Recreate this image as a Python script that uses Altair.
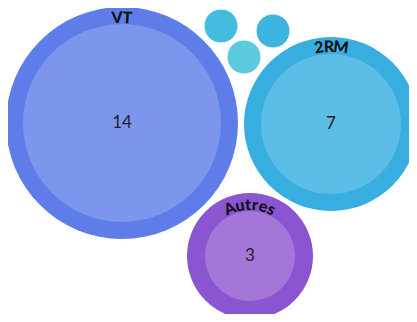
import math
import altair as alt
import pandas as pd

# ---- data ----
categories = ["VT", "2RM", "Autres"]
values = [14, 7, 3]

# ---- layout (page pixel coordinates) ----
centers_x = [122, 331, 250]
centers_y = [123, 124, 256]
outer_r = [116, 87, 63]
inner_r = [99, 70, 45]
outer_colors = ["#5f7de8", "#38aee0", "#8a55d0"]
inner_colors = ["#7b96ec", "#5cbde6", "#a377d8"]
label_r = [105, 77, 51]

small_x = [221, 273, 244]
small_y = [26, 31, 57]
small_r = [17, 17, 17]
small_colors = ["#45bbe0", "#3db4df", "#5bc9de"]

W, H = 401, 306
X0, Y0 = 8, 8

# Vega symbol size is the area of the bounding square: (2r)^2
big = pd.DataFrame({
    "cat": categories, "value": values,
    "x": centers_x, "y": centers_y,
    "area_o": [4 * r * r for r in outer_r],
    "area_i": [4 * r * r for r in inner_r],
    "c_o": outer_colors, "c_i": inner_colors,
})
small = pd.DataFrame({
    "x": small_x, "y": small_y,
    "area": [4 * r * r for r in small_r],
    "c": small_colors,
})

# per-letter curved labels
char_w = {"V": 10.5, "T": 9.5, "2": 9.5, "R": 10.5, "M": 13.5, "A": 11,
          "u": 9.5, "t": 7, "r": 7, "e": 9.5, "s": 8}
rows = []
for cat, cx, cy, R in zip(categories, centers_x, centers_y, label_r):
    widths = [char_w.get(ch, 9) for ch in cat]
    total = sum(widths)
    pos = -total / 2
    for ch, w in zip(cat, widths):
        mid = pos + w / 2
        th = mid / R
        rows.append({
            "ch": ch,
            "x": cx + R * math.sin(th),
            "y": cy - R * math.cos(th),
            "ang": math.degrees(th) % 360,
        })
        pos += w
letters = pd.DataFrame(rows)

xs = alt.Scale(domain=[X0, X0 + W], nice=False, zero=False)
ys = alt.Scale(domain=[Y0, Y0 + H], nice=False, zero=False, reverse=True)
X = alt.X("x:Q", scale=xs, axis=None)
Y = alt.Y("y:Q", scale=ys, axis=None)

outer = alt.Chart(big).mark_circle(opacity=1).encode(
    x=X, y=Y, size=alt.Size("area_o:Q", scale=None),
    color=alt.Color("c_o:N", scale=None))
inner = alt.Chart(big).mark_circle(opacity=1).encode(
    x=X, y=Y, size=alt.Size("area_i:Q", scale=None),
    color=alt.Color("c_i:N", scale=None))
smalls = alt.Chart(small).mark_circle(opacity=1, stroke="white", strokeWidth=1).encode(
    x=X, y=Y, size=alt.Size("area:Q", scale=None),
    color=alt.Color("c:N", scale=None))
nums = alt.Chart(big).mark_text(font="Lato", fontSize=17, color="#222222",
                                baseline="middle", align="center").encode(
    x=X, y=Y, text="value:Q")
labels = alt.Chart(letters).mark_text(font="Lato", fontSize=16, fontWeight=900,
                                      color="#111111", baseline="middle",
                                      align="center").encode(
    x=X, y=Y, text="ch:N", angle=alt.Angle("ang:Q", scale=None))

chart = alt.layer(outer, inner, smalls, nums, labels).properties(
    width=W, height=H, padding=0, autosize="none"
).configure_view(stroke=None)

chart.save("out.html", embed_options={"renderer": "svg", "actions": False})
